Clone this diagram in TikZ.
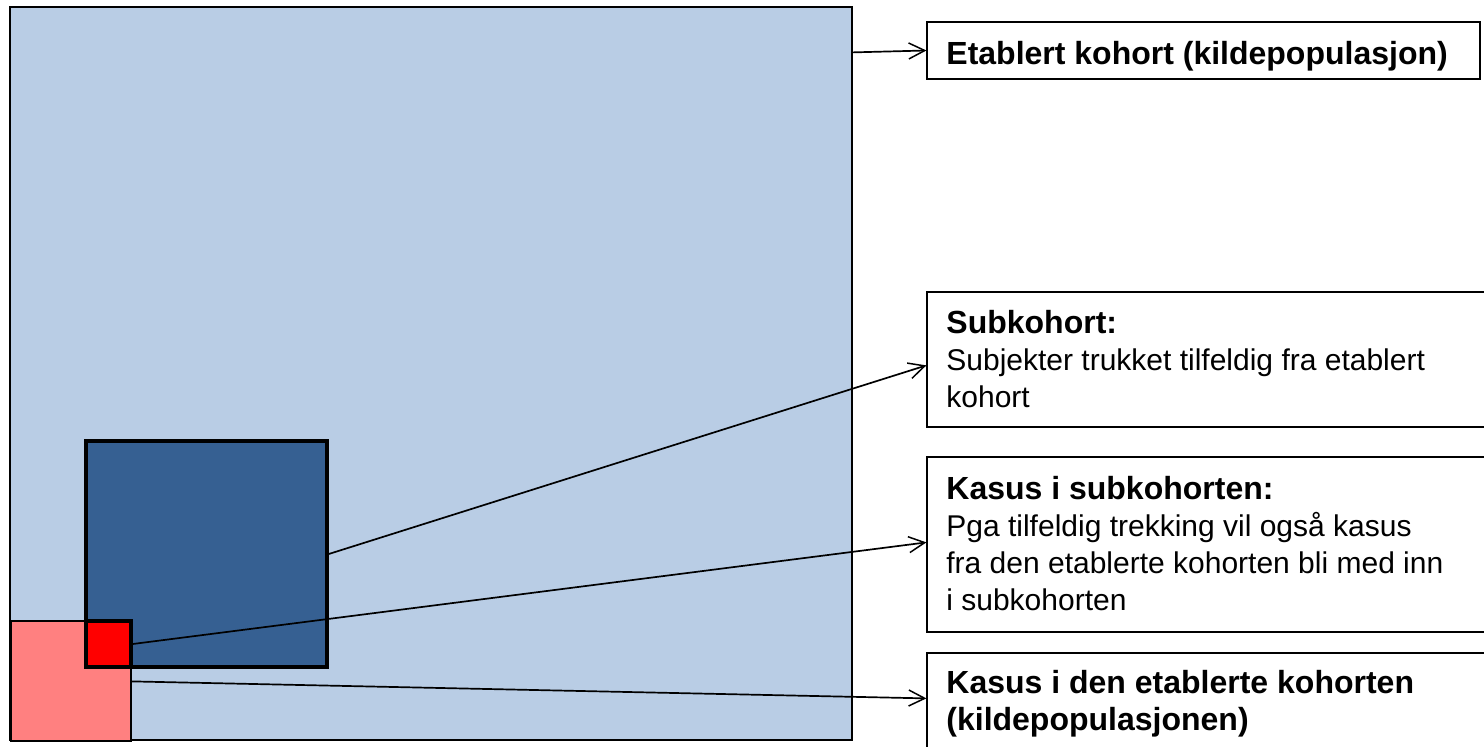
\documentclass[tikz,border=0pt]{standalone}
\usepackage{fontspec}
\setmainfont{Liberation Sans}
\usetikzlibrary{arrows.meta,fit,calc}
\definecolor{cohortblue}{HTML}{B9CDE5}
\definecolor{subblue}{HTML}{366092}
\definecolor{casepink}{HTML}{FF8080}
\definecolor{casered}{HTML}{FF0000}
\tikzset{
  area/.style={draw=black, line width=0.6pt, inner sep=0pt},
  thickarea/.style={draw=black, line width=1.8pt, inner sep=0pt},
  labelbox/.style={draw=black, line width=0.6pt, fill=white, inner sep=0pt},
  labeltext/.style={anchor=north west, inner sep=0pt, align=left,
    font=\fontsize{15pt}{18.5pt}\selectfont},
  conn/.style={line width=0.85pt, -{Straight Barb[length=8pt,width=8pt,line width=0.75pt]}},
}
\newcommand{\firstline}{\rule{0pt}{12pt}}
\newcommand{\heading}[1]{{\fontsize{16pt}{18.5pt}\selectfont\bfseries #1}}
\begin{document}
\begin{tikzpicture}[x=0.5pt, y=-0.5pt]
  \useasboundingbox (0,0) rectangle (1484,747);
  \clip (0,0) rectangle (1484,747);

  % populations
  \node[area, fill=cohortblue, fit={(10,7) (852,740)}] (big) {};
  \node[area, fill=casepink, fit={(11,621) (131,741)}] (pk) {};
  \node[thickarea, fill=subblue, fit={(86,441) (327,667)}] (dk) {};
  \node[thickarea, fill=casered, fit={(86,621) (131,667)}] (rd) {};

  % label boxes
  \node[labelbox, fit={(927,22) (1480,79)}] (b1) {};
  \node[labelbox, fit={(927,292) (1492,427)}] (b2) {};
  \node[labelbox, fit={(927,457) (1492,632)}] (b3) {};
  \node[labelbox, fit={(927,653) (1492,760)}] (b4) {};

  \node[labeltext] (t1) at (946,40) {\firstline\heading{Etablert kohort (kildepopulasjon)}};
  \node[labeltext] (t2) at (946,309) {\firstline\heading{Subkohort:}\\
    Subjekter trukket tilfeldig fra etablert\\ kohort};
  \node[labeltext] (t3) at (946,475) {\firstline\heading{Kasus i subkohorten:}\\
    Pga tilfeldig trekking vil også kasus\\
    fra den etablerte kohorten bli med inn\\
    i subkohorten};
  \node[labeltext] (t4) at (946,669) {\firstline\heading{Kasus i den etablerte kohorten}\\
    \heading{(kildepopulasjonen)}};

  % connectors
  \draw[conn] ($(big.north east)+(0,46)$) -- (b1.west);
  \draw[conn] (dk.east) -- ($(b2.north west)+(0,74)$);
  \draw[conn] (rd.east) -- ($(b3.north west)+(0,86)$);
  \draw[conn] ($(pk.north east)+(0,61)$) -- ($(b4.north west)+(0,46)$);
\end{tikzpicture}
\end{document}
